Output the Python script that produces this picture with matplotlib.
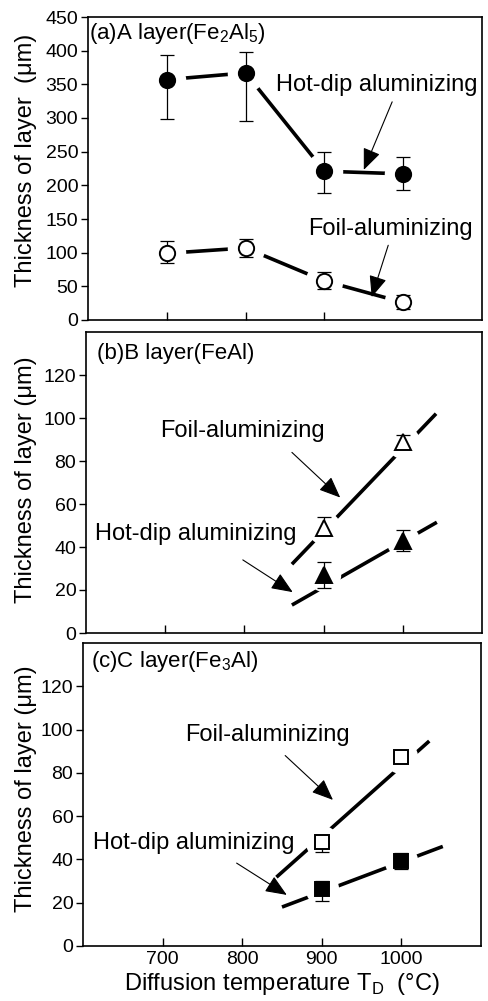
import numpy as np
import matplotlib
matplotlib.use("Agg")
import matplotlib.pyplot as plt

plt.rcParams['font.family'] = ['Liberation Sans', 'DejaVu Sans']
plt.rcParams['mathtext.fontset'] = 'custom'
plt.rcParams['mathtext.rm'] = 'Liberation Sans'

# (a) A layer, Fe2Al5
temps_a = [700, 800, 900, 1000]
hot_a = [357, 367, 221, 217]
hot_a_lo = [298, 295, 188, 193]
hot_a_hi = [393, 398, 249, 242]
foil_a = [99, 107, 58, 26]
foil_a_lo = [85, 93, 46, 16]
foil_a_hi = [118, 121, 72, 37]

# (b) B layer, FeAl and (c) C layer, Fe3Al
temps_bc = [900, 1000]
foil_b = [49, 89]
foil_b_lo = [46, 86]
foil_b_hi = [54, 92]
hot_b = [27, 43]
hot_b_lo = [21, 38]
hot_b_hi = [33, 48]
foil_c = [48, 87.5]
foil_c_lo = [43.5, 85]
foil_c_hi = [50, 90]
hot_c = [26.5, 39.5]
hot_c_lo = [21, 35.5]
hot_c_hi = [30, 43]

# trend lines (end points)
foil_b_fx, foil_b_fy = [860, 1042], [32, 102]
hot_b_fx, hot_b_fy = [860, 1043], [13, 51.5]
foil_c_fx, foil_c_fy = [843, 1035], [31.8, 94.7]
hot_c_fx, hot_c_fy = [850, 1052], [18, 46]

W, H = 488, 1001
fig = plt.figure(figsize=(W / 100, H / 100), dpi=100)


def box(l, r, t, b):
    return [l / W, 1 - b / H, (r - l) / W, (b - t) / H]


ax_a = fig.add_axes(box(88, 482, 17, 320))
ax_b = fig.add_axes(box(86, 482, 332, 633))
ax_c = fig.add_axes(box(83, 481, 643, 946))

tick_fs = 14
txt_fs = 17
arrow = dict(arrowstyle='-|>,head_length=0.6,head_width=0.25', color='black', lw=0.8,
             mutation_scale=22, shrinkA=0, shrinkB=0)


def series(ax, x, y, lo, hi, marker, filled, halo, ms, lx=None, ly=None):
    if lx is None:
        lx, ly = x, y
    ax.plot(lx, ly, '-', color='black', lw=2.6, solid_capstyle='butt', zorder=1)
    ax.plot(x, y, ls='none', marker='o', ms=halo, mfc='white', mec='none', zorder=2)
    y = np.array(y)
    err = [y - np.array(lo), np.array(hi) - y]
    ax.errorbar(x, y, yerr=err, fmt='none', ecolor='black', elinewidth=0.9,
                capsize=5, capthick=0.9, zorder=3)
    ax.plot(x, y, ls='none', marker=marker, ms=ms,
            mfc='black' if filled else 'white', mec='black', mew=1.4, zorder=4)


series(ax_a, temps_a, hot_a, hot_a_lo, hot_a_hi, 'o', True, 27, 11)
series(ax_a, temps_a, foil_a, foil_a_lo, foil_a_hi, 'o', False, 27, 11)
series(ax_b, temps_bc, foil_b, foil_b_lo, foil_b_hi, '^', False, 24, 11, foil_b_fx, foil_b_fy)
series(ax_b, temps_bc, hot_b, hot_b_lo, hot_b_hi, '^', True, 24, 11, hot_b_fx, hot_b_fy)
series(ax_c, temps_bc, foil_c, foil_c_lo, foil_c_hi, 's', False, 24, 10, foil_c_fx, foil_c_fy)
series(ax_c, temps_bc, hot_c, hot_c_lo, hot_c_hi, 's', True, 24, 10, hot_c_fx, hot_c_fy)

# panel (a)
ax_a.set_ylim(0, 450)
ax_a.set_yticks(np.arange(0, 451, 50))
ax_a.text(0.003, 0.944, r'(a)A layer(Fe$_\mathregular{2}$Al$_\mathregular{5}$)',
          transform=ax_a.transAxes, fontsize=txt_fs - 1, va='center', ha='left')
ax_a.annotate('', xy=(950, 223), xytext=(986, 324), arrowprops=arrow)
ax_a.text(966, 349, 'Hot-dip aluminizing', fontsize=txt_fs, ha='center', va='center')
ax_a.annotate('', xy=(960, 34), xytext=(981, 111), arrowprops=arrow)
ax_a.text(984, 135, 'Foil-aluminizing', fontsize=txt_fs, ha='center', va='center')
ax_a.set_ylabel('Thickness of layer  (\u03bcm)', fontsize=txt_fs)
ax_a.yaxis.set_label_coords(-0.13, 0.528)

# panel (b)
ax_b.set_ylim(0, 140)
ax_b.set_yticks(np.arange(0, 121, 20))
ax_b.text(0.028, 0.927, '(b)B layer(FeAl)', transform=ax_b.transAxes,
          fontsize=txt_fs - 1, va='center', ha='left')
ax_b.annotate('', xy=(921, 63), xytext=(860, 84), arrowprops=arrow)
ax_b.text(797, 94, 'Foil-aluminizing', fontsize=txt_fs, ha='center', va='center')
ax_b.annotate('', xy=(861, 19), xytext=(798, 34), arrowprops=arrow)
ax_b.text(738, 46, 'Hot-dip aluminizing', fontsize=txt_fs, ha='center', va='center')
ax_b.set_ylabel('Thickness of layer (\u03bcm)', fontsize=txt_fs)
ax_b.yaxis.set_label_coords(-0.124, 0.51)

# panel (c)
ax_c.set_ylim(0, 140)
ax_c.set_yticks(np.arange(0, 121, 20))
ax_c.text(0.02, 0.94, r'(c)C layer(Fe$_\mathregular{3}$Al)', transform=ax_c.transAxes,
          fontsize=txt_fs - 1, va='center', ha='left')
ax_c.annotate('', xy=(914, 67.5), xytext=(854, 88), arrowprops=arrow)
ax_c.text(832, 97.5, 'Foil-aluminizing', fontsize=txt_fs, ha='center', va='center')
ax_c.annotate('', xy=(856, 23.6), xytext=(793, 38.3), arrowprops=arrow)
ax_c.text(739, 47.6, 'Hot-dip aluminizing', fontsize=txt_fs, ha='center', va='center')
ax_c.set_ylabel('Thickness of layer (\u03bcm)', fontsize=txt_fs)
ax_c.yaxis.set_label_coords(-0.116, 0.52)
ax_c.set_xlabel(r'Diffusion temperature T$_\mathregular{D}$  ($\mathregular{\degree}$C)',
                fontsize=txt_fs, labelpad=2)

for ax in (ax_a, ax_b, ax_c):
    ax.set_xlim(600, 1100)
    ax.set_xticks([700, 800, 900, 1000])
    ax.tick_params(axis='x', direction='in', length=6, width=1, labelsize=tick_fs)
    ax.tick_params(axis='y', direction='out', length=5, width=1, labelsize=tick_fs, pad=2)
    for s in ax.spines.values():
        s.set_linewidth(1.2)
ax_a.tick_params(axis='x', labelbottom=False)
ax_b.tick_params(axis='x', labelbottom=False)

fig.savefig('out.png', dpi=100)
